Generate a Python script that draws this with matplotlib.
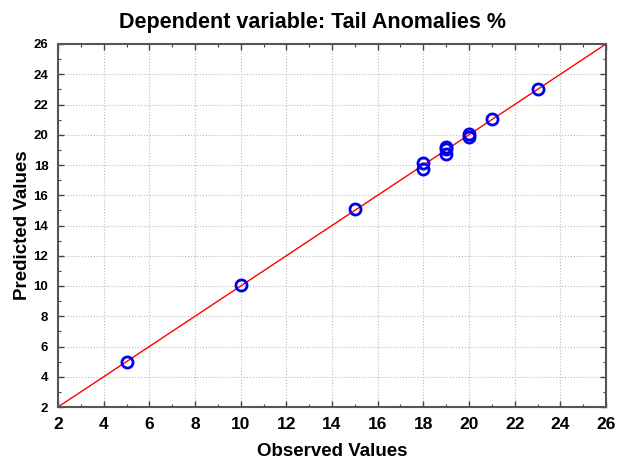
import numpy as np
import matplotlib.pyplot as plt
from matplotlib.ticker import MultipleLocator

plt.rcParams['font.family'] = ['Liberation Sans', 'DejaVu Sans']
plt.rcParams['font.weight'] = 'bold'

# observed vs predicted values
observed = [5, 10, 15, 18, 18, 19, 19, 19, 20, 20, 21, 23]
predicted = [5.0, 10.05, 15.12, 17.72, 18.12, 18.75, 19.05, 19.2, 19.88, 20.08, 21.05, 23.0]
fit_line = [2, 26]

fig = plt.figure(figsize=(6.19, 4.62), dpi=100)
ax = fig.add_axes([58/619, 1-407/462, 548/619, 363/462])

ax.plot(fit_line, fit_line, color='red', lw=1.0, zorder=2)
ax.plot(observed, predicted, 'o', mfc='none', mec='#0000ee', mew=2.0, ms=8, zorder=3)

ax.set_xlim(2, 26) ; ax.set_ylim(2, 26)
ax.xaxis.set_major_locator(MultipleLocator(2))
ax.yaxis.set_major_locator(MultipleLocator(2))
ax.xaxis.set_minor_locator(MultipleLocator(1))
ax.yaxis.set_minor_locator(MultipleLocator(1))
ax.tick_params(which='both', direction='in', top=True, right=True, color='#444444')
ax.tick_params(which='major', length=4, width=1)
ax.tick_params(which='minor', length=2.5, width=0.8)
ax.tick_params(axis='x', labelsize=12.5, pad=7)
ax.tick_params(axis='y', labelsize=9.5, pad=7)
ax.grid(True, which='major', ls=':', color='#bbbbbb', lw=0.8)
for s in ax.spines.values():
    s.set_color('#555555') ; s.set_linewidth(1.5)

# title centred on the figure rather than the axes
fig.suptitle('Dependent variable: Tail Anomalies %', x=0.505, y=0.975,
             fontsize=15.5, fontweight='bold')
ax.set_xlabel('Observed Values', fontsize=13.5, fontweight='bold', labelpad=8)
ax.set_ylabel('Predicted Values', fontsize=13.5, fontweight='bold', labelpad=2)

fig.savefig('out.png', dpi=100)
